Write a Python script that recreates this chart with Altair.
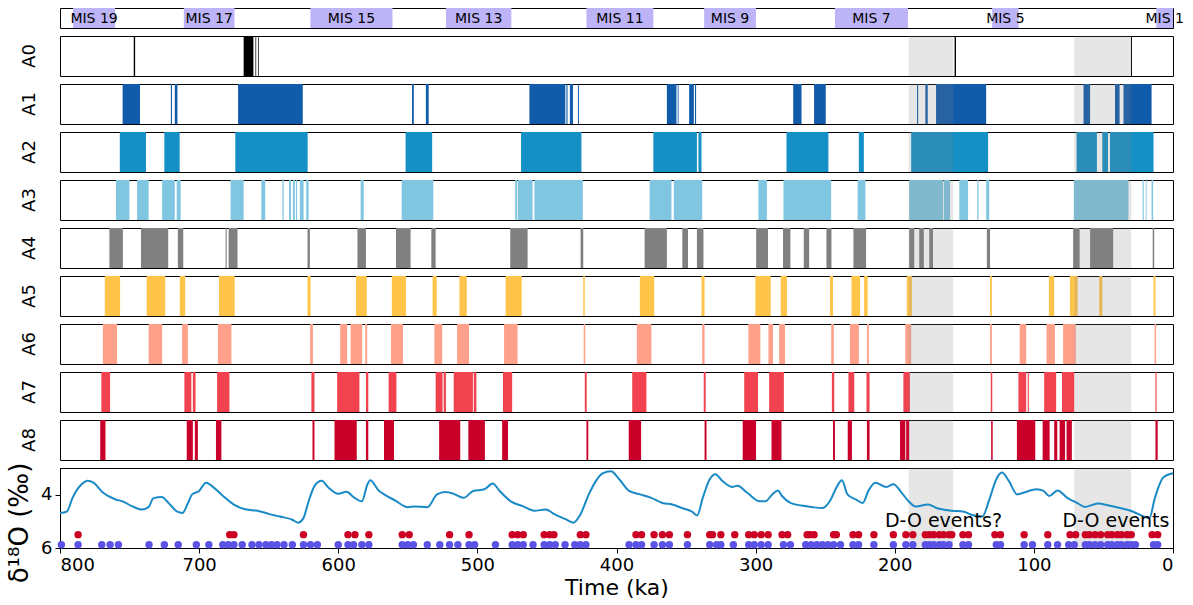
import altair as alt
import pandas as pd

# ---------------------------------------------------------------- data
# Marine isotope stages (ka, older -> younger)
mis_label = ["MIS 19", "MIS 17", "MIS 15", "MIS 13", "MIS 11", "MIS 9", "MIS 7", "MIS 5", "MIS 1"]
mis_start = [790.6, 711.0, 620.0, 522.6, 421.6, 337.0, 243.0, 130.0, 12.0]
mis_end = [760.4, 674.6, 561.0, 475.6, 373.5, 299.8, 190.5, 111.0, 0.0]

# shaded windows
band_start = [190.0, 71.0]
band_end = [158.0, 30.0]

# event spans per record (start ka, end ka)
A0 = [(747, 746), (668, 661), (659.5, 659), (657.7, 657.2), (157, 156), (30.2, 29.5)]
A1 = [(755, 742.5), (720.3, 719.5), (717.5, 715.6), (672, 625.5), (547, 545.7), (537, 535),
      (462.6, 436.8), (436, 435.2), (433.5, 431.3), (427.7, 427), (363.8, 356.9), (356, 355.4),
      (347.8, 344.4), (343.6, 342.8), (273, 267), (258, 249.6), (184, 183.2), (178, 176.3),
      (170.3, 134.3), (64.3, 59.6), (41.7, 38.4), (35.6, 15.4)]
A2 = [(757, 738.2), (725, 714), (674, 622), (551.6, 532.5), (468.6, 425.2), (373.5, 342.2),
      (341.1, 338.9), (277.8, 247.7), (225.8, 222.2), (188.2, 132.9), (69.3, 54.7), (50.8, 46.7),
      (45.3, 14)]
A3 = [(759.8, 750.1), (744.6, 736.3), (726.6, 717.5), (716.1, 713.3), (677.4, 668), (655.3, 652.5),
      (640.1, 639.2), (635.4, 634), (632.6, 631.2), (630.4, 629.6), (627.6, 624.9), (623, 621.3),
      (583.9, 581.7), (554.4, 531.7), (472.8, 471.4), (470.9, 460.3), (459, 424.2), (376.2, 360.5),
      (358.8, 338.4), (298, 291.9), (280, 245.7), (226.7, 221.1), (189.6, 165.3), (164.7, 160.3),
      (153.6, 147.3), (140.7, 139.8), (134.3, 132.1), (71.3, 32), (21.8, 21), (19.6, 19), (15.4, 14.3)]
A4 = [(764.5, 754.8), (741.8, 722.2), (715.3, 711.4), (681, 680.2), (678.8, 672.4), (622.1, 620.4),
      (586.2, 580.1), (558.5, 548), (533.1, 530), (476.4, 463.9), (425.8, 423.9), (379.8, 363.8),
      (352.7, 348.6), (342.2, 337.5), (299.6, 291.1), (280.3, 275), (265.4, 261.5), (249.1, 245.5),
      (229.7, 220.6), (189.6, 186), (182.4, 179.1), (175.2, 172.5), (133.8, 131.5), (71.8, 67.1),
      (59.6, 43), (14.6, 13.5)]
A5 = [(767.8, 756.8), (737.7, 724.4), (713.9, 710), (685.7, 674.4), (622.1, 619.9), (587.3, 579.5),
      (561.5, 551.3), (532.2, 529.2), (512.9, 507.6), (479.7, 468.1), (423.9, 422.8), (383.2, 372.9),
      (338.9, 336.7), (300.2, 289.1), (282, 277.5), (246.6, 244.4), (231.1, 225), (222, 219.5),
      (191.3, 187.7), (131.5, 130.2), (89.2, 85.4), (74.1, 68.5), (53, 50.8), (14, 12.6)]
A6 = [(769.2, 759), (736.3, 726.6), (712.2, 708.1), (686.5, 676.8), (620.2, 618.2), (598.6, 593.6),
      (591.1, 582.8), (580.6, 579.2), (562.1, 553.5), (530.9, 525.3), (514.6, 506), (480.8, 471.1),
      (423.6, 422.5), (385.4, 374.9), (338.4, 336.7), (305.2, 296.6), (290.8, 287.5), (283.1, 278.9),
      (245.7, 243.8), (232.2, 225.8), (220, 218.6), (192.4, 188.2), (131.5, 130.2), (110.2, 105.5),
      (90.9, 84.8), (79, 69.9), (13.2, 12.1)]
A7 = [(770.3, 764), (710.6, 705.6), (704.5, 702.6), (687.1, 678.2), (619.3, 617.1), (600.8, 584.8),
      (580.1, 578.4), (563.8, 558.2), (530, 525), (524.2, 522.6), (517, 503.2), (502.6, 500.7),
      (481.6, 475), (422.8, 421.4), (388.7, 378.5), (337.3, 335.9), (308.2, 298.3), (290.3, 279.7),
      (245.2, 243.5), (233.3, 229.1), (220.3, 218.1), (193.8, 189.1), (131, 129.9), (111.1, 105.5),
      (104.4, 103.6), (92.6, 84), (79.8, 71), (12.6, 11.8)]
A8 = [(771.1, 767.3), (708.9, 704.5), (703.1, 700.9), (687.9, 684), (618.5, 617.1), (602.7, 586.7),
      (580.1, 578.4), (567.1, 559.9), (527.5, 512.3), (506.5, 494.6), (482.2, 478), (421.6, 420.3),
      (391.2, 382.3), (336.7, 335.3), (309.3, 299.7), (288.6, 281.4), (244.4, 243), (233.8, 230.8),
      (220, 218.1), (196.2, 192.4), (191.8, 189.6), (130.7, 129.6), (112.2, 99), (93.7, 88.7),
      (85.4, 83.2), (81.5, 77.6), (76.5, 72.7), (12.6, 11)]

records = [("A0", A0, "#000000"), ("A1", A1, "#115caa"), ("A2", A2, "#1490c6"),
           ("A3", A3, "#80c6e0"), ("A4", A4, "#808080"), ("A5", A5, "#ffc54a"),
           ("A6", A6, "#ffa08a"), ("A7", A7, "#f0434f"), ("A8", A8, "#c8002a")]

# benthic d18O stack
d18o_age = [800, 795, 791, 785, 780, 776, 769, 760, 755, 748,
            741, 736, 733, 727, 722, 716, 712, 708, 705, 700,
            695, 691, 684, 675, 666, 658, 650, 642, 633, 629,
            625, 622, 617, 612, 607, 600, 594, 589, 583, 579,
            577, 571, 567, 559, 550, 545, 536, 529, 523, 517,
            510, 503, 495, 489, 484, 476, 467, 459, 451, 444,
            437, 431, 426, 420, 415, 410, 404, 398, 391, 383,
            375, 367, 360, 353, 346, 342, 338, 333, 329, 324,
            317, 313, 306, 297, 293, 288, 284, 281, 275, 267,
            259, 252, 246, 242, 238, 234, 228, 223, 219, 214,
            206, 201, 195, 190, 185, 176, 170, 159, 151, 145,
            137, 132, 127, 123, 118, 112, 107, 98, 93, 89,
            83, 76, 69, 63, 54, 46, 38, 29, 21, 17,
            13, 7, 0]
d18o_val = [4.69, 4.63, 4.12, 3.64, 3.48, 3.55, 3.93, 4.18, 4.25, 4.44,
            4.56, 4.44, 4.14, 4.09, 4.31, 4.63, 4.69, 4.31, 3.99, 3.86,
            3.55, 3.67, 3.99, 4.37, 4.56, 4.60, 4.72, 4.82, 4.94, 5.05,
            4.88, 4.37, 3.67, 3.48, 3.74, 3.97, 3.89, 4.09, 4.25, 3.61,
            3.46, 3.84, 3.99, 4.22, 4.47, 4.44, 4.47, 3.99, 3.90, 3.97,
            4.12, 3.86, 3.80, 3.58, 3.86, 4.25, 4.44, 4.60, 4.56, 4.75,
            4.91, 5.05, 4.75, 4.00, 3.50, 3.20, 3.12, 3.42, 3.86, 3.99,
            4.12, 4.31, 4.37, 4.50, 4.63, 4.78, 4.12, 3.42, 3.23, 3.48,
            3.71, 3.67, 3.93, 4.25, 4.25, 3.99, 3.84, 4.05, 4.31, 4.41,
            4.47, 4.50, 4.18, 3.74, 3.46, 3.99, 4.18, 4.31, 3.86, 3.55,
            3.71, 3.61, 3.93, 4.25, 4.44, 4.37, 4.50, 4.60, 4.63, 4.75,
            4.82, 4.18, 3.42, 3.17, 3.48, 3.99, 3.92, 3.80, 3.86, 4.05,
            3.84, 4.12, 4.31, 4.46, 4.33, 4.41, 4.50, 4.63, 4.82, 4.88,
            4.12, 3.36, 3.20]

# event markers (ka)
red_events = [787, 678, 675, 625, 593, 588, 578, 554, 549, 520, 506, 475, 471, 467, 452, 448, 445,
              426, 422, 386, 382, 373, 367, 362, 349, 333, 331, 325, 315, 305, 301, 296, 291, 281,
              277, 263, 261, 258, 244, 242, 230, 226, 215, 201, 192, 187, 178, 175, 172, 168, 165,
              161, 159, 151, 147, 128, 124, 107, 90, 74, 70, 63, 60, 56, 52, 47, 44, 40, 37, 33,
              30, 15, 11]
blue_events = [799, 787, 770, 764, 758, 736, 725, 715, 702, 693, 683, 679, 675, 669, 662, 657, 652,
               648, 644, 639, 633, 625, 620, 615, 600, 593, 589, 583, 578, 554, 550, 546, 536, 527,
               520, 514, 506, 502, 487, 475, 471, 467, 460, 452, 448, 444, 437, 430, 426, 422, 391,
               386, 382, 373, 367, 362, 349, 333, 328, 325, 316, 305, 301, 296, 291, 280, 275, 264,
               260, 256, 252, 248, 244, 239, 230, 226, 215, 201, 192, 187, 178, 175, 172, 168, 165,
               161, 151, 147, 127, 124, 107, 101, 90, 83, 75, 71, 63, 60, 56, 52, 47, 44, 40, 37,
               33, 30, 27, 14, 11]

note_text = ["D-O events?", "D-O events"]
note_age = [165, 41]
note_val = [5.0, 5.0]

# ---------------------------------------------------------------- layout
PLOT_W = 1113
STRIP_H = 20
PANEL_H = 40
ISO_H = 80

age_scale = alt.Scale(domain=[0, 800], reverse=True, nice=False, zero=False)
bands = pd.DataFrame({"start": band_start, "end": band_end})


def shade(axis=None):
    return alt.Chart(bands).mark_rect(color="gray", opacity=0.2).encode(
        x=alt.X("start:Q", scale=age_scale, axis=axis), x2="end:Q")


def side_label(text, height, dx, size):
    return alt.Chart(pd.DataFrame({"t": [text]})).mark_text(
        angle=270, fontSize=size, align="center", baseline="middle", color="black"
    ).encode(x=alt.value(dx), y=alt.value(height), text="t:N")


# MIS strip
mis = pd.DataFrame({"label": mis_label, "start": mis_start, "end": mis_end})
mis_boxes = alt.Chart(mis).mark_rect(color="#bdb4f7").encode(
    x=alt.X("start:Q", scale=age_scale, axis=None), x2="end:Q")
mis_text = alt.Chart(mis).transform_calculate(mid="(datum.start + datum.end) / 2").mark_text(
    fontSize=14, color="black", baseline="middle"
).encode(x=alt.X("mid:Q", scale=age_scale, axis=None), y=alt.value(STRIP_H / 2 + 1), text="label:N")
strip = alt.layer(mis_boxes, mis_text).properties(width=PLOT_W, height=STRIP_H)

# event records
panels = []
for name, spans, color in records:
    df = pd.DataFrame(spans, columns=["start", "end"])
    bars = alt.Chart(df).mark_rect(color=color).encode(
        x=alt.X("start:Q", scale=age_scale, axis=None), x2="end:Q")
    panels.append(
        alt.layer(bars, shade(), side_label(name, PANEL_H / 2, -30, 18))
        .properties(width=PLOT_W, height=PANEL_H)
    )

# isotope panel
x_axis = alt.Axis(values=list(range(0, 801, 100)), title="Time (ka)", format="d",
                  labelFontSize=18, titleFontSize=22, tickSize=5, labelPadding=3,
                  titlePadding=3, grid=False, titleFontWeight="normal",
                  domainColor="black", tickColor="black", labelColor="black", titleColor="black")
y_scale = alt.Scale(domain=[3, 6], reverse=True, nice=False, zero=False)
y_axis = alt.Axis(values=[4, 6], title=None, labelFontSize=18, tickSize=5, labelPadding=3,
                  grid=False, domainColor="black", tickColor="black", labelColor="black")

iso = pd.DataFrame({"age": d18o_age, "val": d18o_val})
iso_line = alt.Chart(iso).mark_line(color="#1a8ac6", strokeWidth=2, interpolate="monotone").encode(
    x=alt.X("age:Q", scale=age_scale, axis=x_axis),
    y=alt.Y("val:Q", scale=y_scale, axis=y_axis))

red_pts = alt.Chart(pd.DataFrame({"age": red_events})).mark_circle(
    color="#cc0022", size=55, opacity=1).encode(
    x=alt.X("age:Q", scale=age_scale, axis=x_axis), y=alt.datum(5.5, scale=y_scale, axis=y_axis))
blue_pts = alt.Chart(pd.DataFrame({"age": blue_events})).mark_circle(
    color="#5b52e6", size=55, opacity=1).encode(
    x=alt.X("age:Q", scale=age_scale, axis=x_axis), y=alt.datum(5.88, scale=y_scale, axis=y_axis))

notes = alt.Chart(pd.DataFrame({"t": note_text, "age": note_age, "val": note_val})).mark_text(
    fontSize=19, color="black", align="center", baseline="middle").encode(
    x=alt.X("age:Q", scale=age_scale, axis=x_axis),
    y=alt.Y("val:Q", scale=y_scale, axis=y_axis), text="t:N")

iso_panel = alt.layer(
    shade(x_axis), iso_line, red_pts, blue_pts, notes,
    side_label("δ¹⁸O (‰)", 55, -40, 26),
).properties(width=PLOT_W, height=ISO_H)

chart = (
    alt.vconcat(strip, *panels, iso_panel, spacing=8, bounds="flush")
    .properties(padding={"left": 6, "top": 7, "right": 5, "bottom": 5})
    .configure(font="DejaVu Sans")
    .configure_view(stroke="black", strokeWidth=1)
)

chart.save("out.html", embed_options={"renderer": "svg", "actions": False})
